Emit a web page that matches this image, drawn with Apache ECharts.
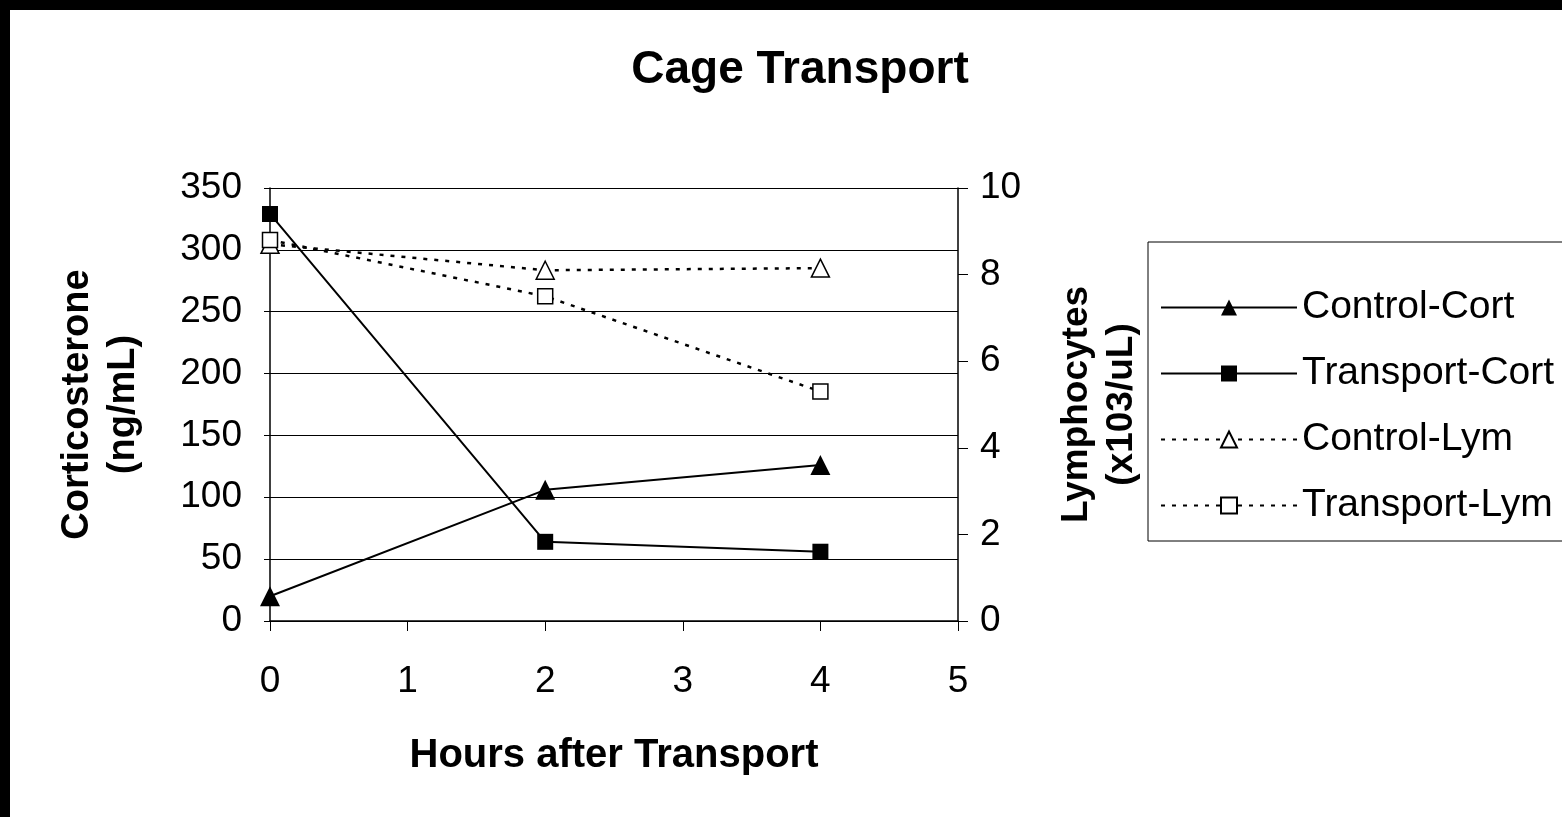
<!DOCTYPE html>
<html><head><meta charset="utf-8">
<script src="https://cdn.jsdelivr.net/npm/echarts@6/dist/echarts.min.js"></script>
<style>
html,body{margin:0;padding:0;background:#000;width:1562px;height:817px;overflow:hidden}
#c{position:absolute;left:10px;top:10px;width:1552px;height:807px;background:#fff}
</style></head><body><div id="c"></div>
<script>
const hours = [0, 2, 4]
const controlCort = [20, 106, 126]
const transportCort = [329, 64, 56]
const controlLym = [8.7, 8.1, 8.15]
const transportLym = [8.8, 7.5, 5.3]
const font = 'Liberation Sans, Arial, sans-serif'

const pairs = (ys) => hours.map((h, i) => [h, ys[i]])
const chart = echarts.init(document.getElementById('c'))

function ser(name, data, yIdx, symbol, dashed, size) {
  return {
    name, type: 'line', data: pairs(data), yAxisIndex: yIdx,
    symbol, symbolSize: size,
    lineStyle: {color: '#000', width: dashed ? 2.5 : 2, type: dashed ? [4, 7] : 'solid'},
    itemStyle: {color: dashed ? '#fff' : '#000', borderColor: '#000', borderWidth: dashed ? 1.5 : 0},
    emphasis: {disabled: true}
  }
}

chart.setOption({
  animation: false,
  textStyle: {fontFamily: font, color: '#000'},
  title: {text: 'Cage Transport', left: 785, top: 32, textAlign: 'center',
    textStyle: {fontFamily: font, fontSize: 46, fontWeight: 'bold', color: '#000'}},
  grid: {left: 260, top: 178, right: 604, bottom: 196},
  legend: {
    orient: 'vertical', left: 1138, top: 232, padding: [46, 20, 16, 12],
    borderColor: '#000', borderWidth: 1, itemWidth: 136, itemHeight: 20, itemGap: 27,
    textStyle: {fontFamily: font, fontSize: 39, color: '#000'},
    data: ['Control-Cort', 'Transport-Cort', 'Control-Lym', 'Transport-Lym']
  },
  xAxis: {
    type: 'value', min: 0, max: 5, interval: 1,
    name: 'Hours after Transport', nameLocation: 'middle', nameGap: 115,
    nameTextStyle: {fontFamily: font, fontSize: 40, fontWeight: 'bold', color: '#000'},
    axisLine: {onZero: false, lineStyle: {color: '#000', width: 1.5}},
    axisTick: {show: true, length: 10, lineStyle: {color: '#000'}},
    axisLabel: {fontFamily: font, fontSize: 37, color: '#000', margin: 42},
    splitLine: {show: false}
  },
  yAxis: [{
    type: 'value', min: 0, max: 350, interval: 50,
    name: 'Corticosterone\n(ng/mL)', nameLocation: 'middle', nameRotate: 90, nameGap: 123,
    nameTextStyle: {fontFamily: font, fontSize: 38, fontWeight: 'bold', color: '#000', lineHeight: 46},
    axisLine: {show: true, lineStyle: {color: '#000', width: 1.5}},
    axisTick: {show: true, length: 6, lineStyle: {color: '#000'}},
    axisLabel: {fontFamily: font, fontSize: 37, color: '#000', margin: 28},
    splitLine: {show: true, lineStyle: {color: '#000', width: 1}}
  }, {
    type: 'value', min: 0, max: 10, interval: 2, position: 'right',
    name: 'Lymphocytes\n(x103/uL)', nameLocation: 'middle', nameRotate: 90, nameGap: 96,
    nameTextStyle: {fontFamily: font, fontSize: 37, fontWeight: 'bold', color: '#000', lineHeight: 45},
    axisLine: {show: true, lineStyle: {color: '#000', width: 1.5}},
    axisTick: {show: true, length: 10, lineStyle: {color: '#000'}},
    axisLabel: {fontFamily: font, fontSize: 37, color: '#000', margin: 22},
    splitLine: {show: false}
  }],
  series: [
    ser('Control-Cort', controlCort, 0, 'triangle', false, 20),
    ser('Transport-Cort', transportCort, 0, 'rect', false, 16),
    ser('Control-Lym', controlLym, 1, 'triangle', true, 18),
    ser('Transport-Lym', transportLym, 1, 'rect', true, 15)
  ]
})
</script></body></html>
